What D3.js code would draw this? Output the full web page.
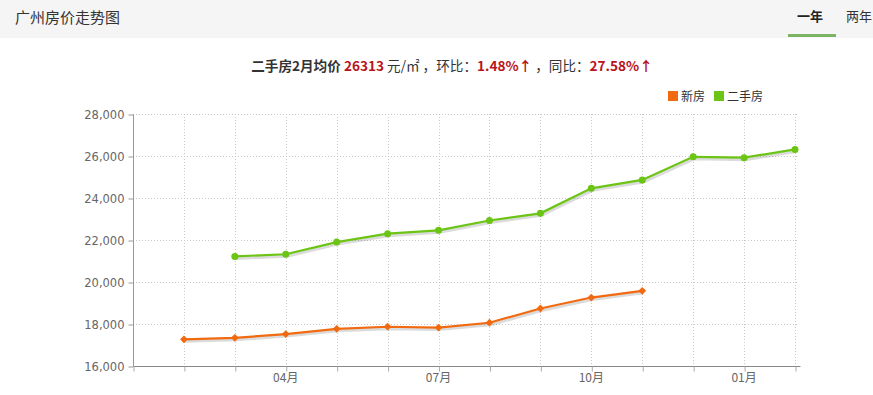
<!DOCTYPE html>
<html><head><meta charset="utf-8">
<script src="https://cdn.jsdelivr.net/npm/d3@7/dist/d3.min.js"></script>
<style>
body{margin:0;background:#fff;font-family:"Microsoft YaHei","Noto Sans CJK SC",sans-serif;}
svg{display:block}
</style></head>
<body>
<svg id="c" width="873" height="395"></svg>
<script>
// month index: 0 = Jan (axis start), 13 = Feb next year
const months = [0,1,2,3,4,5,6,7,8,9,10,11,12,13];
const tickLabels = [{m:3,t:"04月"},{m:6,t:"07月"},{m:9,t:"10月"},{m:12,t:"01月"}];
const newMonths = [1,2,3,4,5,6,7,8,9,10];
const newValues = [17270,17340,17520,17770,17870,17830,18060,18740,19260,19580];
const usedMonths = [2,3,4,5,6,7,8,9,10,11,12,13];
const usedValues = [21220,21320,21900,22300,22460,22930,23270,24460,24860,25960,25920,26313];
const yTicks = [16000,18000,20000,22000,24000,26000,28000];
const seriesNames = ["新房","二手房"];
const colors = ["#f26a10","#6cc414"];

const svg = d3.select("#c");
const font = '"Microsoft YaHei","Noto Sans CJK SC",sans-serif';
const numFont = '"DejaVu Sans","Noto Sans CJK SC",sans-serif';

// header
svg.append("rect").attr("x",0).attr("y",0).attr("width",873).attr("height",38).attr("fill","#f5f5f5");
svg.append("text").attr("x",15).attr("y",23).attr("font-size",15).attr("fill","#333").attr("font-family",font).text("广州房价走势图");
svg.append("text").attr("x",797).attr("y",21).attr("font-size",13).attr("font-weight","bold").attr("fill","#222").attr("font-family",font).text("一年");
svg.append("text").attr("x",846).attr("y",21).attr("font-size",13).attr("fill","#333").attr("font-family",font).text("两年");
svg.append("rect").attr("x",788).attr("y",34).attr("width",48).attr("height",3).attr("fill","#7cb464");

// subtitle
const sub = svg.append("text").attr("x",452).attr("y",71).attr("text-anchor","middle").attr("font-size",13.6).attr("font-family",font).attr("fill","#333");
sub.append("tspan").attr("font-weight","bold").text("二手房2月均价 ");
sub.append("tspan").attr("font-weight","bold").attr("fill","#b8141c").text("26313");
sub.append("tspan").text(" 元/㎡ ，环比：");
sub.append("tspan").attr("font-weight","bold").attr("fill","#b8141c").text("1.48%↑");
sub.append("tspan").text(" ，同比：");
sub.append("tspan").attr("font-weight","bold").attr("fill","#b8141c").text("27.58%↑");

// scales
const x = d3.scaleLinear().domain([0,13]).range([133,795]);
const y = d3.scaleLinear().domain([16000,28000]).range([366,114]);

// grid
const g = svg.append("g");
g.selectAll(".hg").data(yTicks.slice(1)).enter().append("line")
  .attr("x1",133).attr("x2",797).attr("y1",d=>y(d)+0.5).attr("y2",d=>y(d)+0.5)
  .attr("stroke","#c8c8c8").attr("stroke-dasharray","1,2");
g.selectAll(".vg").data(months.slice(1)).enter().append("line")
  .attr("x1",d=>Math.round(x(d))+0.5).attr("x2",d=>Math.round(x(d))+0.5).attr("y1",114).attr("y2",366)
  .attr("stroke","#c8c8c8").attr("stroke-dasharray","1,2");

// y axis
const ya = svg.append("g").attr("transform","translate(133.5,0.5)")
  .call(d3.axisLeft(y).tickValues(yTicks).tickSize(5).tickPadding(4).tickFormat(d3.format(",")));
ya.select(".domain").attr("stroke","#999").attr("d","M0,114V366");
ya.selectAll(".tick line").attr("stroke","#999");
ya.selectAll("text").attr("fill","#666").attr("font-size",11.5).attr("font-family",numFont);

// x axis
const xa = svg.append("g").attr("transform","translate(0.5,366.5)")
  .call(d3.axisBottom(x).tickValues(months).tickSize(5).tickFormat(""));
xa.select(".domain").attr("stroke","#888").attr("d","M133,0H800");
xa.selectAll(".tick line").attr("stroke","#aaa");
svg.selectAll(".xl").data(tickLabels).enter().append("text")
  .attr("x",d=>x(d.m)).attr("y",382).attr("text-anchor","middle").attr("font-size",12)
  .attr("fill","#666").attr("font-family",font).text(d=>d.t);

// lines
const line = d3.line().x(d=>x(d[0])).y(d=>y(d[1]));
const newData = newMonths.map((m,i)=>[m,newValues[i]]);
const usedData = usedMonths.map((m,i)=>[m,usedValues[i]]);
[[usedData,1],[newData,0]].forEach(([data,k])=>{
  svg.append("path").datum(data).attr("d",line).attr("fill","none")
    .attr("stroke","rgba(0,0,0,0.14)").attr("stroke-width",3).attr("transform","translate(1,2)");
  svg.append("path").datum(data).attr("d",line).attr("fill","none")
    .attr("stroke",colors[k]).attr("stroke-width",2.2);
});
// markers
svg.selectAll(".nm").data(newData).enter().append("path")
  .attr("d",d3.symbol().type(d3.symbolSquare).size(30))
  .attr("transform",d=>`translate(${x(d[0])},${y(d[1])}) rotate(45)`).attr("fill",colors[0]);
svg.selectAll(".um").data(usedData).enter().append("circle")
  .attr("cx",d=>x(d[0])).attr("cy",d=>y(d[1])).attr("r",3.5).attr("fill",colors[1]);

// legend
const leg = svg.append("g");
seriesNames.forEach((n,i)=>{
  const lx = [668,714][i];
  leg.append("rect").attr("x",lx).attr("y",91).attr("width",10).attr("height",10).attr("fill",colors[i]);
  leg.append("text").attr("x",lx+13).attr("y",100.5).attr("font-size",12).attr("fill","#333").attr("font-family",font).text(n);
});
</script>
</body></html>
